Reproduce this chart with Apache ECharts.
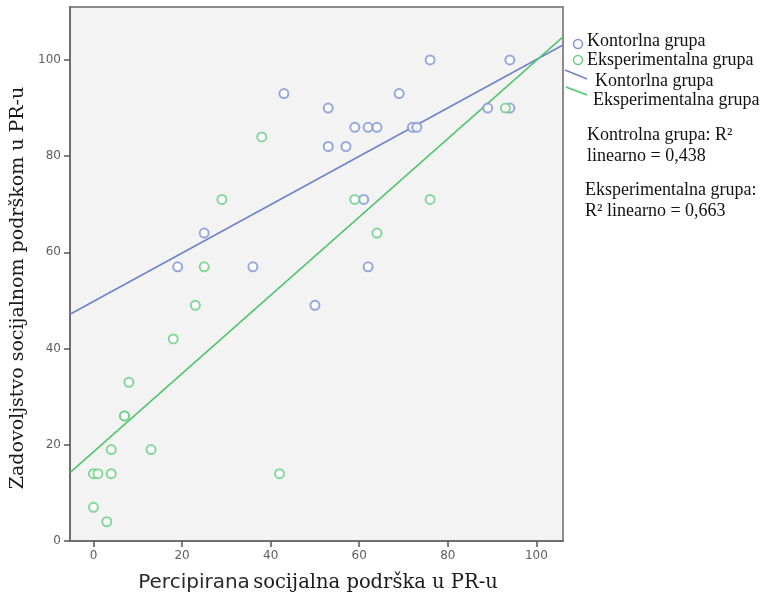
<!DOCTYPE html>
<html>
<head>
<meta charset="utf-8">
<script src="https://cdn.jsdelivr.net/npm/echarts@6/dist/echarts.min.js"></script>
<style>
  html, body { margin: 0; padding: 0; background: #ffffff; }
  #chart { width: 762px; height: 598px; }
</style>
</head>
<body>
<div id="chart"></div>
<script>
// Kontrolna grupa: perceived support (x) vs satisfaction (y)
const kontrolnaX = [43, 25, 19, 36, 53, 53, 57, 59, 62, 64, 69, 76, 94, 72, 73, 89, 61, 62, 50, 94];
const kontrolnaY = [93, 64, 57, 57, 90, 82, 82, 86, 86, 86, 93, 100, 100, 86, 86, 90, 71, 57, 49, 90];

// Eksperimentalna grupa
const eksperimentalnaX = [38, 29, 25, 59, 76, 64, 93, 23, 18, 8, 7, 7, 4, 13, 0, 1, 4, 42, 0, 3];
const eksperimentalnaY = [84, 71, 57, 71, 71, 64, 90, 49, 42, 33, 26, 26, 19, 19, 14, 14, 14, 14, 7, 4];

const tickValues = [0, 20, 40, 60, 80, 100];
const xRange = [-5.3, 106];
const yRange = [0, 111];

const blueLine = '#6f83c9';
const blueDot = '#8093d3';
const greenLine = '#52c46e';
const greenDot = '#6acd82';

// Ordinary least-squares fit
function fit(xs, ys) {
  const n = xs.length;
  const mx = xs.reduce((a, b) => a + b, 0) / n;
  const my = ys.reduce((a, b) => a + b, 0) / n;
  let sxy = 0, sxx = 0;
  for (let i = 0; i < n; i++) {
    sxy += (xs[i] - mx) * (ys[i] - my);
    sxx += (xs[i] - mx) * (xs[i] - mx);
  }
  const slope = sxy / sxx;
  const intercept = my - slope * mx;
  return xRange.map(x => [x, intercept + slope * x]);
}

const pairs = (xs, ys) => xs.map((x, i) => [x, ys[i]]);

const serifFamily = '"Liberation Serif", "Times New Roman", serif';
const legendFont = '18px ' + serifFamily;

const chart = echarts.init(document.getElementById('chart'), null, { renderer: 'canvas' });

chart.setOption({
  animation: false,
  backgroundColor: '#ffffff',
  grid: {
    left: 70, right: 199, top: 7, bottom: 57,
    show: true, backgroundColor: '#f3f3f3', borderColor: '#8c8c8c', borderWidth: 2
  },
  xAxis: {
    type: 'value', min: xRange[0], max: xRange[1],
    axisLine: { show: true, onZero: false, lineStyle: { color: '#6e6e6e', width: 2 } },
    axisTick: { show: true, customValues: tickValues, length: 6, lineStyle: { color: '#555', width: 1.5 } },
    axisLabel: { customValues: tickValues, margin: 9, color: '#5e5e5e', fontFamily: 'DejaVu Sans', fontSize: 12 },
    splitLine: { show: false }
  },
  yAxis: {
    type: 'value', min: yRange[0], max: yRange[1],
    axisLine: { show: true, onZero: false, lineStyle: { color: '#6e6e6e', width: 2 } },
    axisTick: { show: true, customValues: tickValues, length: 6, lineStyle: { color: '#555', width: 1.5 } },
    axisLabel: { customValues: tickValues, margin: 9, color: '#5e5e5e', fontFamily: 'DejaVu Sans', fontSize: 12 },
    splitLine: { show: false }
  },
  series: [
    {
      name: 'Kontrolna grupa', type: 'scatter', data: pairs(kontrolnaX, kontrolnaY),
      symbol: 'emptyCircle', symbolSize: 9,
      itemStyle: { color: blueDot, borderColor: blueDot, borderWidth: 1.5 }, z: 3
    },
    {
      name: 'Eksperimentalna grupa', type: 'scatter', data: pairs(eksperimentalnaX, eksperimentalnaY),
      symbol: 'emptyCircle', symbolSize: 9,
      itemStyle: { color: greenDot, borderColor: greenDot, borderWidth: 1.5 }, z: 3
    },
    {
      name: 'Kontrolna fit', type: 'line', data: fit(kontrolnaX, kontrolnaY),
      showSymbol: false, lineStyle: { color: blueLine, width: 1.6 }, z: 2
    },
    {
      name: 'Eksperimentalna fit', type: 'line', data: fit(eksperimentalnaX, eksperimentalnaY),
      showSymbol: false, lineStyle: { color: greenLine, width: 1.6 }, z: 2
    }
  ],
  graphic: [
    // axis titles
    {
      type: 'text', x: 18, y: 288, rotation: Math.PI / 2,
      style: {
        text: 'Zadovoljstvo socijalnom podrškom u PR-u',
        fontFamily: '"DejaVu Serif", serif', fontSize: 19, fill: '#1a1a1a',
        align: 'center', verticalAlign: 'middle'
      }
    },
    {
      type: 'text', x: 318, y: 583,
      style: {
        text: '{a|Percipirana} {b|socijalna podrška u PR-u}',
        align: 'center', verticalAlign: 'middle',
        rich: {
          a: { fontFamily: '"DejaVu Sans", sans-serif', fontSize: 20, fill: '#2a2a2a' },
          b: { fontFamily: '"DejaVu Serif", serif', fontSize: 19.5, fill: '#1a1a1a' }
        }
      }
    },
    // legend markers
    { type: 'circle', shape: { cx: 578, cy: 44, r: 4.5 }, style: { fill: 'none', stroke: blueDot, lineWidth: 1.5 } },
    { type: 'circle', shape: { cx: 578, cy: 60, r: 4.5 }, style: { fill: 'none', stroke: greenDot, lineWidth: 1.5 } },
    { type: 'line', shape: { x1: 565, y1: 70, x2: 587, y2: 79 }, style: { stroke: blueLine, lineWidth: 1.6 } },
    { type: 'line', shape: { x1: 566, y1: 87, x2: 587, y2: 95 }, style: { stroke: greenLine, lineWidth: 1.6 } },
    // legend labels
    { type: 'text', x: 587, y: 41, style: { text: 'Kontorlna grupa', font: legendFont, fill: '#111', verticalAlign: 'middle' } },
    { type: 'text', x: 587, y: 60, style: { text: 'Eksperimentalna grupa', font: legendFont, fill: '#111', verticalAlign: 'middle' } },
    { type: 'text', x: 595, y: 81, style: { text: 'Kontorlna grupa', font: legendFont, fill: '#111', verticalAlign: 'middle' } },
    { type: 'text', x: 593, y: 100, style: { text: 'Eksperimentalna grupa', font: legendFont, fill: '#111', verticalAlign: 'middle' } },
    // fit statistics
    { type: 'text', x: 587, y: 135, style: { text: 'Kontrolna grupa: R²', font: legendFont, fill: '#111', verticalAlign: 'middle' } },
    { type: 'text', x: 587, y: 156, style: { text: 'linearno = 0,438', font: legendFont, fill: '#111', verticalAlign: 'middle' } },
    { type: 'text', x: 585, y: 190, style: { text: 'Eksperimentalna grupa:', font: legendFont, fill: '#111', verticalAlign: 'middle' } },
    { type: 'text', x: 585, y: 211, style: { text: 'R² linearno = 0,663', font: legendFont, fill: '#111', verticalAlign: 'middle' } }
  ]
});
</script>
</body>
</html>
